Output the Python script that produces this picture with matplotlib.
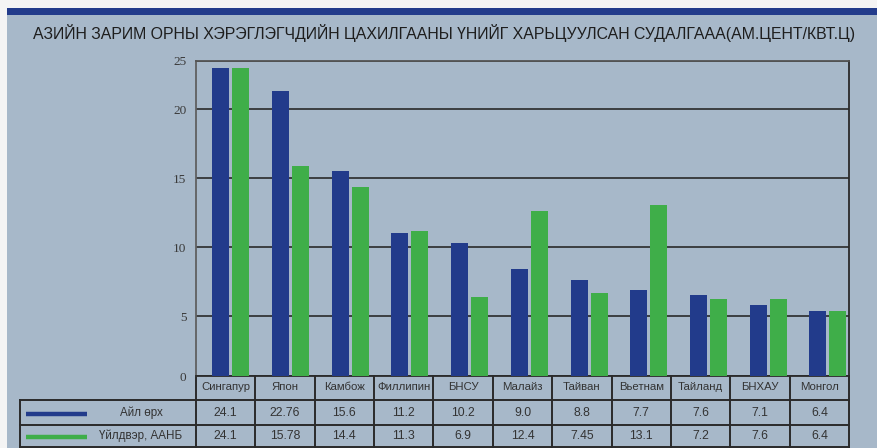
import numpy as np
import matplotlib
matplotlib.use('Agg')
import matplotlib.pyplot as plt
from matplotlib.patches import Rectangle

# --- Data ---
countries = ['Сингапур', 'Япон', 'Камбож', 'Филлипин', 'БНСУ', 'Малайз',
             'Тайван', 'Вьетнам', 'Тайланд', 'БНХАУ', 'Монгол']
# bar heights as drawn in the picture
household = [24.25, 21.9, 15.5, 11.05, 10.3, 8.45, 7.65, 6.9, 6.55, 5.8, 5.4]
industry = [24.25, 15.9, 14.4, 11.2, 6.4, 12.65, 6.7, 13.05, 6.25, 6.25, 5.4]
# numbers printed in the table under the chart
household_txt = ['24.1', '22.76', '15.6', '11.2', '10.2', '9.0', '8.8', '7.7', '7.6', '7.1', '6.4']
industry_txt = ['24.1', '15.78', '14.4', '11.3', '6.9', '12.4', '7.45', '13.1', '7.2', '7.6', '6.4']
series_names = ['Айл өрх', 'Үйлдвэр, ААНБ']
yticks = [0, 5, 10, 15, 20, 25]

title = 'АЗИЙН ЗАРИМ ОРНЫ ХЭРЭГЛЭГЧДИЙН ЦАХИЛГААНЫ ҮНИЙГ ХАРЬЦУУЛСАН СУДАЛГААА(АМ.ЦЕНТ/КВТ.Ц)'

BLUE = '#223b8b'
GREEN = '#3fae49'
PANEL = '#a7b8c9'
LINE = '#2a2a2a'
TXT = '#333333'

W, H = 877, 448
fig = plt.figure(figsize=(W / 100, H / 100), dpi=100, facecolor='#f4f4f4')

# --- background overlay in pixel coords ---
bg = fig.add_axes([0, 0, 1, 1], zorder=-1)
bg.set_xlim(0, W)
bg.set_ylim(H, 0)
bg.axis('off')
bg.add_patch(Rectangle((7, 8), W - 7, H - 8, color=PANEL, lw=0))
bg.add_patch(Rectangle((7, 8), W - 7, 7, color=BLUE, lw=0))
bg.text(33, 33, title, fontsize=11.4, family='Liberation Sans', color='#1e1e1e',
        ha='left', va='center')

# --- main chart ---
ax_left, ax_right, ax_top, ax_bot = 196, 849, 60.7, 376
ax = fig.add_axes([ax_left / W, 1 - ax_bot / H, (ax_right - ax_left) / W, (ax_bot - ax_top) / H])
ax.set_facecolor('none')

# the picture's y axis is not evenly spaced; reproduce it with a piecewise scale
knots_v = [0, 5, 20, 25]
knots_p = [0, 59.7, 266.7, 315.3]
fwd = lambda v: np.interp(v, knots_v, knots_p)
inv = lambda p: np.interp(p, knots_p, knots_v)
ax.set_yscale('function', functions=(fwd, inv))
ax.set_ylim(0, 25)

x = np.arange(len(countries))
bw = 17 / 59.7
off = 10 / 59.7
ax.bar(x - off, household, width=bw, color=BLUE, zorder=3)
ax.bar(x + off, industry, width=bw, color=GREEN, zorder=3)
ax.set_xlim((ax_left - 230.8) / 59.7, (ax_right - 230.8) / 59.7)

ax.set_yticks(yticks)
ax.set_yticklabels([str(t) for t in yticks], family='Liberation Serif', fontsize=9.5, color='#3a3a3a')
ax.tick_params(axis='y', length=0, pad=7)
ax.set_xticks([])
ax.yaxis.grid(True, color=LINE, lw=1.2)
ax.set_axisbelow(True)
ax.spines['top'].set_color('#555555')
ax.spines['left'].set_color('#606060')
ax.spines['right'].set_color(LINE)
ax.spines['bottom'].set_color(LINE)
for s in ax.spines.values():
    s.set_linewidth(1.3)

# --- data table below the chart ---
col_x = np.linspace(ax_left, ax_right, len(countries) + 1)
row_y = [376, 400, 425, 447.5]
lkw = dict(color=LINE, lw=1.4)
bg.plot([20, ax_right], [row_y[1], row_y[1]], **lkw)
bg.plot([20, ax_right], [row_y[2], row_y[2]], **lkw)
bg.plot([20, ax_right], [row_y[3], row_y[3]], **lkw)
bg.plot([20, 20], [row_y[1], row_y[3]], **lkw)
for cx in col_x:
    bg.plot([cx, cx], [row_y[0], row_y[3]], **lkw)

tkw = dict(family='Liberation Sans', color=TXT, ha='center', va='center')
for i, name in enumerate(countries):
    cx = (col_x[i] + col_x[i + 1]) / 2
    bg.text(cx, 386.5, name, fontsize=8.2, **tkw)
    bg.text(cx, 413, household_txt[i], fontsize=8.8, **tkw)
    bg.text(cx, 436, industry_txt[i], fontsize=8.8, **tkw)

for (yy, col, name) in [(414.5, BLUE, series_names[0]), (437, GREEN, series_names[1])]:
    bg.plot([26, 87], [yy, yy], color=col, lw=3.2, solid_capstyle='butt')
    bg.text(141, yy - 1.5, name, fontsize=8.4, **tkw)

fig.savefig('out.png', dpi=100, facecolor=fig.get_facecolor())
